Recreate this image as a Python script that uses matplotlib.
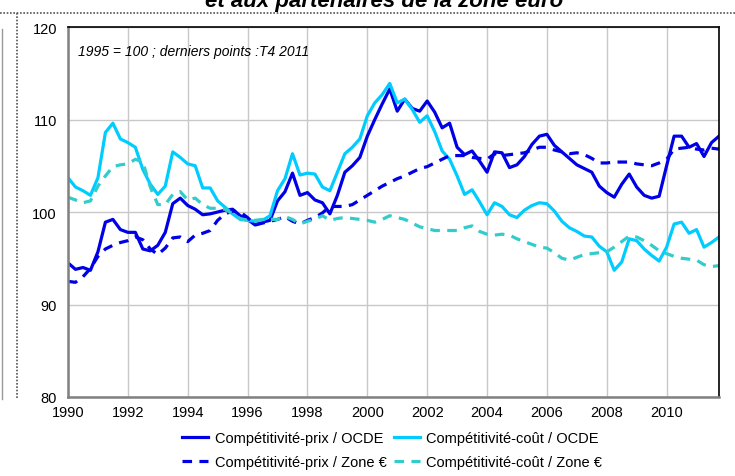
import matplotlib.pyplot as plt
import numpy as np
from matplotlib.lines import Line2D

plt.rcParams['font.family'] = ['Liberation Sans', 'DejaVu Sans']

# données trimestrielles, T1 1990 -> T4 2011 (1995 = 100)
prix_ocde = [
    94.5, 93.8, 94.0, 93.7,
    95.7, 98.9, 99.2, 98.1,
    97.8, 97.8, 96.0, 95.8,
    96.4, 97.8, 100.9, 101.5,
    100.7, 100.3, 99.7, 99.8,
    100.0, 100.2, 100.3, 99.6,
    99.2, 98.6, 98.9, 99.1,
    101.2, 102.2, 104.2, 101.8,
    102.1, 101.3, 101.0, 99.8,
    101.8, 104.3, 105.0, 105.9,
    108.2, 110.0, 111.7, 113.3,
    110.9, 112.2, 111.2, 110.9,
    112.0, 110.8, 109.1, 109.6,
    107.0, 106.2, 106.6, 105.5,
    104.3, 106.5, 106.4, 104.8,
    105.1, 106.0, 107.3, 108.2,
    108.4, 107.2, 106.5, 105.8,
    105.1, 104.7, 104.3, 102.8,
    102.1, 101.6, 103.0, 104.1,
    102.7, 101.8, 101.5, 101.7,
    105.0, 108.2, 108.2, 107.0,
    107.4, 106.0, 107.5, 108.2]

cout_ocde = [
    103.7, 102.7, 102.3, 101.8,
    103.7, 108.6, 109.6, 107.9,
    107.5, 107.0, 104.6, 103.0,
    101.9, 102.8, 106.5, 105.9,
    105.2, 105.0, 102.6, 102.6,
    101.2, 100.5, 99.8, 99.2,
    99.1, 99.0, 99.1, 99.6,
    102.3, 103.6, 106.3, 104.0,
    104.2, 104.1, 102.7, 102.3,
    104.3, 106.3, 107.0, 107.9,
    110.4, 111.8, 112.7, 113.9,
    111.8, 112.2, 111.1, 109.7,
    110.4, 108.7, 106.6, 105.7,
    103.9, 101.9, 102.4, 101.1,
    99.7, 101.0, 100.6, 99.7,
    99.4, 100.2, 100.7, 101.0,
    100.9, 100.1, 99.0, 98.3,
    97.9, 97.4, 97.3, 96.3,
    95.7, 93.7, 94.6, 97.1,
    96.9, 96.0, 95.3, 94.7,
    96.2, 98.7, 98.9, 97.7,
    98.1, 96.2, 96.7, 97.3]

prix_zone = [
    92.5, 92.4, 93.0, 93.9,
    95.2, 96.0, 96.4, 96.7,
    96.9, 97.3, 97.0, 96.0,
    95.4, 96.1, 97.2, 97.3,
    96.8, 97.5, 97.7, 98.0,
    99.1, 99.8, 100.1, 100.0,
    99.4, 98.6, 98.8, 99.0,
    99.2, 99.5, 99.0, 98.7,
    99.1, 99.4, 99.9, 100.6,
    100.6, 100.6, 100.8, 101.3,
    101.8, 102.3, 102.8, 103.2,
    103.6, 103.9, 104.3, 104.7,
    104.9, 105.3, 105.7, 106.1,
    106.1, 106.1, 105.9, 105.8,
    105.7, 106.3, 106.1, 106.2,
    106.3, 106.4, 106.7, 107.0,
    107.0, 106.7, 106.5, 106.3,
    106.4, 106.2, 105.8, 105.3,
    105.3, 105.4, 105.4, 105.4,
    105.2, 105.1, 105.0, 105.3,
    105.7, 106.8, 106.9, 107.0,
    106.8, 106.7, 106.9, 106.8]

cout_zone = [
    101.6, 101.3, 101.0, 101.2,
    102.8, 103.9, 104.9, 105.1,
    105.2, 105.7, 105.4, 102.7,
    100.8, 100.8, 101.9, 102.2,
    101.3, 101.5, 100.8, 100.4,
    100.4, 100.3, 99.8, 99.3,
    99.1, 99.1, 99.2, 99.2,
    99.2, 99.5, 99.2, 98.7,
    99.0, 99.2, 99.6, 99.1,
    99.3, 99.4, 99.3, 99.2,
    99.1, 98.9, 99.2, 99.6,
    99.4, 99.2, 98.8, 98.4,
    98.2, 98.0, 98.0, 98.0,
    98.0, 98.3, 98.5, 97.9,
    97.6, 97.5, 97.6, 97.5,
    97.1, 96.8, 96.5, 96.2,
    96.1, 95.6, 95.0, 94.8,
    95.1, 95.4, 95.5, 95.6,
    95.7, 96.2, 96.8, 97.4,
    97.3, 96.9, 96.4, 95.8,
    95.5, 95.2, 95.0, 94.9,
    94.8, 94.3, 94.1, 94.2]

labels = ['Compétitivité-prix / OCDE', 'Compétitivité-coût / OCDE',
          'Compétitivité-prix / Zone €', 'Compétitivité-coût / Zone €']
x_ticks = list(range(1990, 2011, 2))
y_ticks = [80, 90, 100, 110, 120]

bleu = '#0000E6'
cyan = '#00CCFF'
turquoise = '#33CCCC'

trimestres = 1990 + np.arange(len(prix_ocde)) / 4

fig = plt.figure(figsize=(7.35, 4.77), dpi=100)
ax = fig.add_axes([68 / 735, 1 - 398 / 477, (719 - 68) / 735, (398 - 28) / 477])

lw = 2.3
l1, = ax.plot(trimestres, prix_ocde, color=bleu, lw=lw, label=labels[0])
l2, = ax.plot(trimestres, cout_ocde, color=cyan, lw=lw, label=labels[1])
l3, = ax.plot(trimestres, prix_zone, color=bleu, lw=lw, dashes=(3, 2.3), label=labels[2])
l4, = ax.plot(trimestres, cout_zone, color=turquoise, lw=lw, dashes=(3, 2.3), label=labels[3])

ax.set_xlim(1990, 2011.75)
ax.set_ylim(80, 120)
ax.set_xticks(x_ticks)
ax.set_yticks(y_ticks)
ax.grid(True, color='#C8C8C8', lw=1)
ax.set_axisbelow(True)
ax.tick_params(length=0, labelsize=10.5, colors='black')
ax.tick_params(axis='x', pad=6)
ax.tick_params(axis='y', pad=8)
for s in ['left', 'bottom']:
    ax.spines[s].set_color('#808080')
    ax.spines[s].set_linewidth(1.8)
for s in ['top', 'right']:
    ax.spines[s].set_color('black')
    ax.spines[s].set_linewidth(1.2)

ax.text(0.015, 0.955, '1995 = 100 ; derniers points :T4 2011', transform=ax.transAxes,
        fontsize=10, style='italic', va='top', ha='left')

# ordre colonne par colonne pour avoir OCDE en haut, Zone € en bas
fig.legend([l1, l3, l2, l4], [labels[0], labels[2], labels[1], labels[3]],
           loc='center', bbox_to_anchor=(392 / 735, 1 - 451 / 477), ncol=2,
           frameon=False, fontsize=10.5, handlelength=1.8, labelspacing=0.72,
           columnspacing=0.5, handletextpad=0.45)

# morceau du titre coupé et cadre pointillé de la capture
fig.text(384 / 735, 1 - 7 / 477, 'et aux partenaires de la zone euro', fontsize=16,
         weight='bold', style='italic', ha='center', va='baseline')
fig.add_artist(Line2D([0, 1], [1 - 14 / 477, 1 - 14 / 477], color='#555555', lw=1.2,
                      linestyle=(0, (1, 1))))
fig.add_artist(Line2D([17 / 735, 17 / 735], [1 - 14 / 477, 1 - 400 / 477], color='#555555',
                      lw=1.2, linestyle=(0, (1, 1))))
fig.add_artist(Line2D([2 / 735, 2 / 735], [1 - 30 / 477, 1 - 400 / 477], color='#999999', lw=1))

fig.savefig('out.png', dpi=100)
